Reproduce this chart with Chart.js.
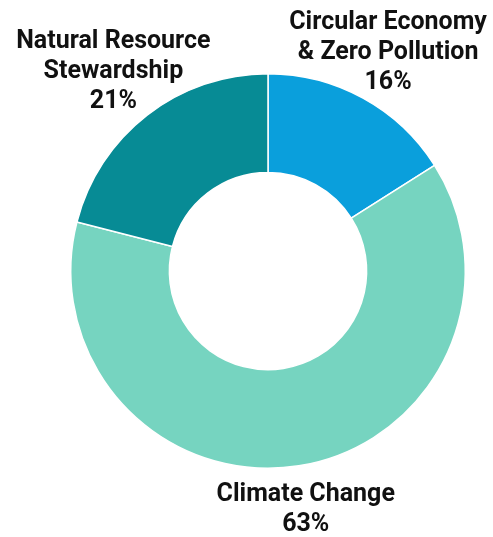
<!DOCTYPE html>
<html>
<head>
<meta charset="utf-8">
<script src="https://cdn.jsdelivr.net/npm/chart.js@4"></script>
<style>
  html, body { margin: 0; padding: 0; background: #fff; }
  #wrap { width: 493px; height: 537px; position: relative; }
</style>
</head>
<body>
<div id="wrap"><canvas id="c"></canvas></div>
<script>
// categories / values, clockwise from 12 o'clock
const labels = [["Circular Economy", "& Zero Pollution"], ["Climate Change"], ["Natural Resource", "Stewardship"]]
const values = [16, 63, 21]
const colors = ["#0a9fdc", "#76d4c0", "#078b95"]
const labelGap = [52, 44, 55]

// draw the category + percent text outside each slice
const outsideLabels = {
  id: "outsideLabels",
  afterDraw(chart) {
    const ctx = chart.ctx
    const arcs = chart.getDatasetMeta(0).data
    ctx.save()
    ctx.fillStyle = "#111"
    ctx.font = "bold 25px Roboto"
    ctx.textAlign = "center"
    ctx.textBaseline = "middle"
    arcs.forEach((arc, i) => {
      const mid = (arc.startAngle + arc.endAngle) / 2
      const r = arc.outerRadius + labelGap[i]
      const x = arc.x + r * Math.cos(mid)
      const y = arc.y + r * Math.sin(mid)
      const lines = [...labels[i], values[i] + "%"]
      const lh = 30
      const top = y - ((lines.length - 1) * lh) / 2
      lines.forEach((t, j) => ctx.fillText(t, x, top + j * lh))
    })
    ctx.restore()
  },
}

new Chart(document.getElementById("c"), {
  type: "doughnut",
  data: {
    labels: labels.map((l) => l.join(" ")),
    datasets: [{
      data: values,
      backgroundColor: colors,
      borderColor: "#fff",
      borderWidth: 1.5,
    }],
  },
  options: {
    responsive: true,
    maintainAspectRatio: false,
    animation: false,
    cutout: "50%",
    layout: { padding: { left: 70, right: 27, top: 73, bottom: 68 } },
    plugins: { legend: { display: false }, tooltip: { enabled: false } },
  },
  plugins: [outsideLabels],
})
</script>
</body>
</html>
